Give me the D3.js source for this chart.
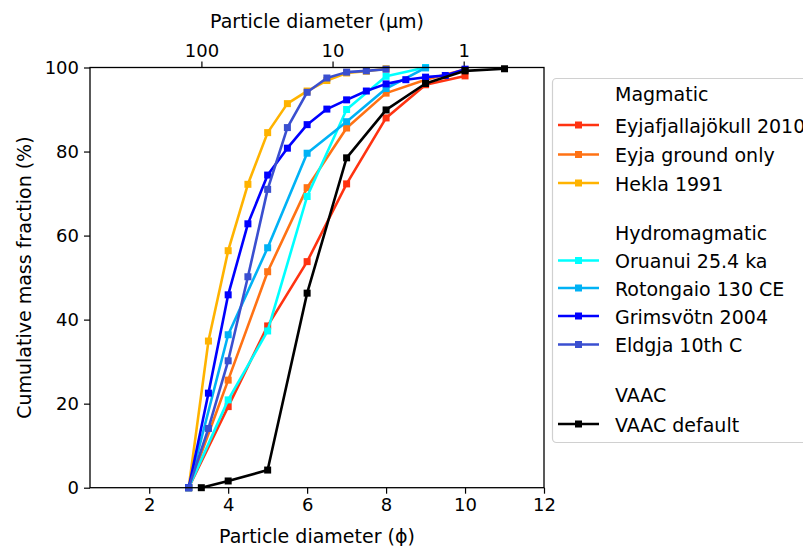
<!DOCTYPE html>
<html>
<head>
<meta charset="utf-8">
<script src="https://cdn.jsdelivr.net/npm/d3@7"></script>
<style>
  body { margin: 0; background: #fff; }
  text { font-family: "DejaVu Sans", sans-serif; fill: #000; }
</style>
</head>
<body>
<svg id="chart" width="803" height="546"></svg>
<script>
// ---- data ----
const phiHalf = [3, 3.5, 4, 4.5, 5, 5.5, 6, 6.5, 7, 7.5, 8];
const phiGrims = [3, 3.5, 4, 4.5, 5, 5.5, 6, 6.5, 7, 7.5, 8, 8.5, 9, 9.5, 10];
const phiInt10 = [3, 4, 5, 6, 7, 8, 9, 10];
const phiInt9 = [3, 4, 5, 6, 7, 8, 9];
const phiVAAC = [3.32, 4, 5, 6, 7, 8, 9, 10, 11];

const eyjafjallajokull = [0, 19.3, 38.5, 53.8, 72.3, 88.0, 95.9, 98.0];
const eyjaGround = [0, 25.6, 51.4, 71.4, 85.6, 93.9, 97.1, 99.5];
const hekla = [0, 34.9, 56.4, 72.2, 84.5, 91.4, 94.4, 96.9, 98.7, 99.1, 99.7];
const oruanui = [0, 20.9, 37.3, 69.3, 90.0, 97.9, 100];
const rotongaio = [0, 36.4, 57.1, 79.6, 87.1, 95.0, 99.9];
const grimsvotn = [0, 22.5, 45.9, 62.8, 74.4, 80.8, 86.4, 90.1, 92.3, 94.4, 96.1, 97.1, 97.7, 98.1, 99.6];
const eldgja = [0, 14.1, 30.2, 50.2, 71.0, 85.7, 94.1, 97.5, 98.9, 99.2, 99.6];
const vaacDefault = [0, 1.6, 4.2, 46.3, 78.5, 89.9, 96.2, 99.2, 99.7];

const seriesNames = ["Eyjafjallajökull 2010", "Eyja ground only", "Hekla 1991",
  "Oruanui 25.4 ka", "Rotongaio 130 CE", "Grimsvötn 2004", "Eldgja 10th C", "VAAC default"];
const seriesColors = ["#ff3311", "#ff7214", "#ffb300", "#00ffff", "#00b2f5", "#0000ff", "#3a4fd0", "#000000"];
const seriesX = [phiInt10, phiInt10, phiHalf, phiInt9, phiInt9, phiGrims, phiHalf, phiVAAC];
const seriesY = [eyjafjallajokull, eyjaGround, hekla, oruanui, rotongaio, grimsvotn, eldgja, vaacDefault];

const legendRows = [
  {title: "Magmatic"}, {s: 0}, {s: 1}, {s: 2},
  {title: "Hydromagmatic"}, {s: 3}, {s: 4}, {s: 5}, {s: 6},
  {title: "VAAC"}, {s: 7}
];
const legendY = [94, 125, 154.5, 183, 233, 260.5, 288, 316, 344.5, 395, 424];

const xTicks = [2, 4, 6, 8, 10, 12];
const yTicks = [0, 20, 40, 60, 80, 100];
const topTicks = [100, 10, 1];

// ---- layout ----
const L = 90, R = 544, T = 67.5, B = 487.7;
const svg = d3.select("#chart");
const x = d3.scaleLinear().domain([0.5, 12]).range([L, R]);
const y = d3.scaleLinear().domain([0, 100]).range([B, T]);
// top axis: particle diameter in µm, phi = -log2(d / 1000 µm)
const xTop = d3.scaleLog().domain([1000 * Math.pow(2, -0.5), 1000 * Math.pow(2, -12)]).range([L, R]);

const tickFont = "18px";

// bottom axis
const gx = svg.append("g").attr("transform", `translate(0,${B})`)
  .call(d3.axisBottom(x).tickValues(xTicks).tickSize(6).tickPadding(5).tickFormat(d3.format("d")));
// left axis
const gy = svg.append("g").attr("transform", `translate(${L},0)`)
  .call(d3.axisLeft(y).tickValues(yTicks).tickSize(6).tickPadding(5).tickFormat(d3.format("d")));
// top axis
const gt = svg.append("g").attr("transform", `translate(0,${T})`)
  .call(d3.axisTop(xTop).tickValues(topTicks).tickSize(6).tickPadding(5).tickFormat(d3.format("d")));

[gx, gy, gt].forEach(g => {
  g.selectAll(".domain").remove();
  g.selectAll(".tick line").attr("stroke", "#000").attr("stroke-width", 1.2);
  g.selectAll(".tick text").style("font-size", tickFont).attr("fill", "#000");
});

// clip for data
svg.append("clipPath").attr("id", "clip").append("rect")
  .attr("x", L).attr("y", T - 6).attr("width", R - L).attr("height", B - T + 12);

const line = d3.line().x(d => x(d[0])).y(d => y(d[1]));
const dataG = svg.append("g");
seriesNames.forEach((name, i) => {
  const pts = seriesX[i].map((p, k) => [p, seriesY[i][k]]);
  const g = dataG.append("g");
  g.append("path").datum(pts).attr("d", line)
    .attr("fill", "none").attr("stroke", seriesColors[i]).attr("stroke-width", 2.6)
    .attr("stroke-linejoin", "round");
  const ms = 7;
  g.selectAll("rect").data(pts).enter().append("rect")
    .attr("x", d => x(d[0]) - ms / 2).attr("y", d => y(d[1]) - ms / 2)
    .attr("width", ms).attr("height", ms).attr("fill", seriesColors[i]);
});

// frame
svg.append("rect").attr("x", L).attr("y", T).attr("width", R - L).attr("height", B - T)
  .attr("fill", "none").attr("stroke", "#000").attr("stroke-width", 1.3);

// axis labels
svg.append("text").attr("x", (L + R) / 2).attr("y", 28).attr("text-anchor", "middle")
  .style("font-size", "19px").text("Particle diameter (µm)");
svg.append("text").attr("x", (L + R) / 2).attr("y", 543).attr("text-anchor", "middle")
  .style("font-size", "19px").text("Particle diameter (ϕ)");
svg.append("text").attr("transform", `translate(31,${(T + B) / 2}) rotate(-90)`)
  .attr("text-anchor", "middle").style("font-size", "19px").text("Cumulative mass fraction (%)");

// legend
const lg = svg.append("g");
lg.append("rect").attr("x", 552.5).attr("y", 78.5).attr("width", 300).attr("height", 364)
  .attr("rx", 4).attr("fill", "#fff").attr("stroke", "#d0d0d0").attr("stroke-width", 1.2);
legendRows.forEach((row, k) => {
  const yy = legendY[k];
  if (row.title) {
    lg.append("text").attr("x", 615).attr("y", yy + 7).style("font-size", "19px").text(row.title);
  } else {
    const c = seriesColors[row.s];
    lg.append("line").attr("x1", 558).attr("x2", 599).attr("y1", yy).attr("y2", yy)
      .attr("stroke", c).attr("stroke-width", 2.6);
    lg.append("rect").attr("x", 578.5 - 3.5).attr("y", yy - 3.5).attr("width", 7).attr("height", 7).attr("fill", c);
    lg.append("text").attr("x", 615).attr("y", yy + 7.5).style("font-size", "19px").text(seriesNames[row.s]);
  }
});
</script>
</body>
</html>
